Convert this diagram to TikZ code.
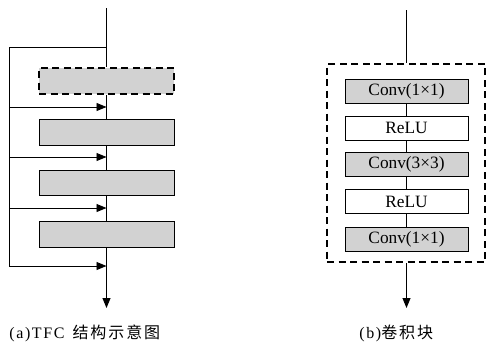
\documentclass[tikz,border=0pt]{standalone}
\usepackage{fontspec}
\setmainfont{Liberation Serif}
\newfontfamily\caplatin[LetterSpace=10]{Liberation Serif}
\newfontfamily\capcjk[LetterSpace=12]{Noto Sans CJK SC}
\usetikzlibrary{arrows.meta}

\begin{document}
\begin{tikzpicture}[x=1pt, y=-1pt, line width=0.9pt,
  tip/.style={-{Triangle[length=10pt,width=8pt]}},
  graybox/.style={draw, fill=gray!35, line width=0.8pt, inner sep=0pt},
  whitebox/.style={draw, fill=white, line width=0.8pt, inner sep=0pt},
  leftbox/.style={graybox, minimum width=135pt, minimum height=26pt},
  rightbox/.style={minimum width=123pt, minimum height=24pt, font=\fontsize{17.3}{19}\selectfont},
  thickdash/.style={line width=2.2pt, dash pattern=on 7pt off 4.5pt},
  caption/.style={font=\fontsize{16}{18}\selectfont, inner sep=0pt}
]
\useasboundingbox (0,0) rectangle (487,343);

% ---- (a) TFC structure ----
\node[leftbox, thickdash] (d1) at (106.5,81) {};
\node[leftbox] (b2) at (106.5,132) {};
\node[leftbox, minimum height=25pt] (b3) at (106.5,182.5) {};
\node[leftbox] (b4) at (106.5,234) {};

\coordinate (atop) at (106.5,8);
\coordinate (split) at (106.5,47);
\coordinate (lcorner) at (9,47);
\coordinate (aout) at (106.5,308);
\foreach \i/\y in {1/107,2/157,3/208,4/266} {
  \coordinate (l\i) at (9,\y);
  \coordinate (j\i) at (106.5,\y);
}

\draw (atop) -- (d1.north);
\draw (d1.south) -- (b2.north);
\draw (b2.south) -- (b3.north);
\draw (b3.south) -- (b4.north);
\draw[tip] (b4.south) -- (aout);
\draw (split) -- (lcorner) -- (l4);
\foreach \i in {1,2,3,4} { \draw[tip] (l\i) -- (j\i); }

% ---- (b) convolution block ----
\node[draw, thickdash, minimum width=158pt, minimum height=198pt, inner sep=0pt] (outer) at (406,163) {};
\node[graybox, rightbox] (c1) at (406.5,91) {Conv(1×1)};
\node[whitebox, rightbox] (c2) at (406.5,128) {ReLU};
\node[graybox, rightbox] (c3) at (406.5,164.5) {Conv(3×3)};
\node[whitebox, rightbox] (c4) at (406.5,201.5) {ReLU};
\node[graybox, rightbox] (c5) at (406.5,239) {Conv(1×1)};

\coordinate (btop) at (406.5,10);
\coordinate (bout) at (406.5,308);
\draw (btop) -- (outer.north -| btop);
\draw (c1) -- (c2);
\draw (c2) -- (c3);
\draw (c3) -- (c4);
\draw (c4) -- (c5);
\draw[tip] (outer.south -| bout) -- (bout);

% ---- captions ----
\node[caption, anchor=west] (capa) at (9,333.5) {\caplatin (a)TFC\hspace{8pt}{\capcjk 结构示意图}};
\node[caption, anchor=west] (capb) at (359,333.5) {\caplatin (b){\capcjk 卷积块}};
\end{tikzpicture}
\end{document}
